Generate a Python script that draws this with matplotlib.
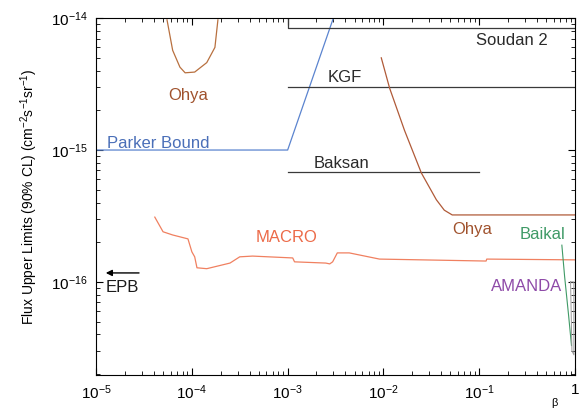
import numpy as np
import matplotlib.pyplot as plt

plt.rcParams['font.family'] = ['Liberation Sans', 'DejaVu Sans']
plt.rcParams['mathtext.fontset'] = 'custom'
plt.rcParams['mathtext.rm'] = 'Liberation Sans'
plt.rcParams['mathtext.it'] = 'Liberation Sans:italic'

# Parker bound
parker_x = [1e-5, 1e-3, 3.0e-3]
parker_y = [1e-15, 1e-15, 1e-14]

# Soudan 2, KGF, Baksan
soudan_x = [1e-3, 1e-3, 1.0]
soudan_y = [1e-14, 8.4e-15, 8.4e-15]
kgf_x = [1e-3, 1.0]
kgf_y = [3.0e-15, 3.0e-15]
baksan_x = [1e-3, 0.1]
baksan_y = [6.8e-16, 6.8e-16]

# Ohya (low beta and high beta)
ohya1_x = [5.5e-5, 6.3e-5, 7.5e-5, 8.5e-5, 1.07e-4, 1.43e-4, 1.74e-4, 1.87e-4]
ohya1_y = [9.7e-15, 5.7e-15, 4.25e-15, 3.85e-15, 3.9e-15, 4.6e-15, 6.0e-15, 9.7e-15]
ohya2_x = [9.5e-3, 0.0116, 0.0166, 0.0249, 0.0357, 0.0432, 0.0523, 1.0]
ohya2_y = [5.0e-15, 2.95e-15, 1.41e-15, 6.7e-16, 4.2e-16, 3.5e-16, 3.22e-16, 3.22e-16]

# MACRO
macro_x = [4.1e-5, 5.0e-5, 6.3e-5, 9.1e-5, 1.0e-4, 1.07e-4, 1.13e-4, 1.43e-4, 2.5e-4,
           3.16e-4, 4.3e-4, 1.13e-3, 1.18e-3, 2.5e-3, 2.75e-3, 2.95e-3, 3.3e-3, 4.4e-3,
           9.1e-3, 0.118, 0.12, 1.0]
macro_y = [3.1e-16, 2.4e-16, 2.27e-16, 2.12e-16, 1.69e-16, 1.55e-16, 1.28e-16, 1.26e-16,
           1.39e-16, 1.55e-16, 1.57e-16, 1.52e-16, 1.42e-16, 1.39e-16, 1.37e-16, 1.42e-16,
           1.66e-16, 1.66e-16, 1.49e-16, 1.44e-16, 1.49e-16, 1.47e-16]

# Baikal and AMANDA
baikal_x = [0.73, 0.78, 0.86, 0.92]
baikal_y = [1.9e-16, 1.1e-16, 5.5e-17, 3.3e-17]
amanda_x = [0.90, 0.975, 0.975, 0.93, 0.90]
amanda_y = [1.0e-16, 1.0e-16, 2.8e-17, 3.0e-17, 1.0e-16]

# EPB arrow
epb_x = [3.0e-5, 1.18e-5]
epb_y = 1.17e-16

fig = plt.figure(figsize=(5.79, 4.12), dpi=100)
ax = fig.add_axes([0.166, 0.090, 0.827, 0.866])

ax.plot(parker_x, parker_y, color='#5b84cf', lw=0.9)
ax.plot(soudan_x, soudan_y, color='#3a3a3a', lw=0.9)
ax.plot(kgf_x, kgf_y, color='#3a3a3a', lw=0.9)
ax.plot(baksan_x, baksan_y, color='#3a3a3a', lw=0.9)
ax.plot(ohya1_x, ohya1_y, color='#b8703f', lw=0.9)
ax.plot(ohya2_x, ohya2_y, color='#b05a38', lw=0.9)
ax.plot(macro_x, macro_y, color='#f08060', lw=0.9)
ax.plot(baikal_x, baikal_y, color='#3f9a66', lw=0.8)
ax.plot(amanda_x, amanda_y, color='#9a9a9a', lw=0.7)

ax.annotate('', xy=(epb_x[1], epb_y), xytext=(epb_x[0], epb_y),
            arrowprops=dict(arrowstyle='-|>', color='k', lw=1.0, mutation_scale=9))

ax.set_xscale('log')
ax.set_yscale('log')
ax.set_xlim(1e-5, 1)
ax.set_ylim(10**-16.705, 1e-14)

ax.tick_params(which='both', direction='in', top=True, right=True, labelsize=11, pad=6)
ax.tick_params(which='major', length=5)
ax.tick_params(which='minor', length=3)
ax.set_xticks([1e-5, 1e-4, 1e-3, 1e-2, 1e-1, 1])
ax.set_xticklabels(['$10^{-5}$', '$10^{-4}$', '$10^{-3}$', '$10^{-2}$', '$10^{-1}$', '1'])
ax.set_yticks([1e-16, 1e-15, 1e-14])
ax.set_yticklabels(['$10^{-16}$', '$10^{-15}$', '$10^{-14}$'])

ax.set_ylabel('Flux Upper Limits (90% CL) (cm$^{-2}$s$^{-1}$sr$^{-1}$)', fontsize=10, labelpad=8)

ax.text(9.1e-5, 2.6e-15, 'Ohya', color='#a0522d', fontsize=12, ha='center', va='center')
ax.text(1.3e-5, 1.13e-15, 'Parker Bound', color='#4a6fb8', fontsize=12, ha='left', va='center')
ax.text(0.22, 6.8e-15, 'Soudan 2', color='#2a2a2a', fontsize=12, ha='center', va='center')
ax.text(3.9e-3, 3.57e-15, 'KGF', color='#2a2a2a', fontsize=12, ha='center', va='center')
ax.text(3.65e-3, 7.97e-16, 'Baksan', color='#2a2a2a', fontsize=12, ha='center', va='center')
ax.text(9.8e-4, 2.16e-16, 'MACRO', color='#ec6a48', fontsize=12, ha='center', va='center')
ax.text(0.0845, 2.48e-16, 'Ohya', color='#a0522d', fontsize=12, ha='center', va='center')
ax.text(0.453, 2.27e-16, 'Baikal', color='#3f9a66', fontsize=12, ha='center', va='center')
ax.text(0.309, 9.2e-17, 'AMANDA', color='#8e4aa8', fontsize=12, ha='center', va='center')
ax.text(1.9e-5, 9.0e-17, 'EPB', color='#1a1a1a', fontsize=12, ha='center', va='center')
ax.text(0.958, -0.078, 'β', transform=ax.transAxes, fontsize=8, ha='center', va='center')

fig.savefig('out.png', dpi=100)
